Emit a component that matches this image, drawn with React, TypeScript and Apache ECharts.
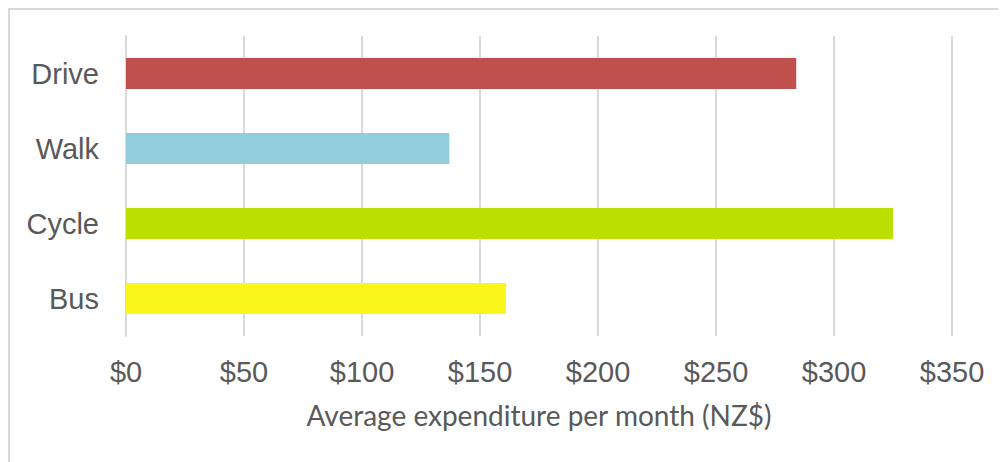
import React, { useEffect, useRef } from "react";
import * as echarts from "echarts";

const categories = ["Drive", "Walk", "Cycle", "Bus"];
const values = [284, 137, 325, 161];
const barColors = ["#C0504D", "#92CDDC", "#BBE000", "#FAF51B"];
const xTicks = { min: 0, max: 350, interval: 50 };
const xTitle = "Average expenditure per month (NZ$)";

export default function App() {
  const ref = useRef<HTMLDivElement>(null);
  useEffect(() => {
    if (!ref.current) return;
    const chart = echarts.init(ref.current, null, { renderer: "svg" });
    chart.setOption({
      animation: false,
      backgroundColor: "#ffffff",
      grid: { left: 116, top: 26, right: 54, bottom: 126, containLabel: false },
      xAxis: {
        type: "value",
        min: xTicks.min,
        max: xTicks.max,
        interval: xTicks.interval,
        axisLine: { show: false },
        axisTick: { show: false },
        splitLine: { show: true, lineStyle: { color: "#d9d9d9", width: 2 } },
        axisLabel: {
          formatter: (v: number) => "$" + v,
          color: "#595959",
          fontFamily: "Liberation Sans, Arial, sans-serif",
          fontSize: 29,
          margin: 21,
        },
        name: xTitle,
        nameLocation: "middle",
        nameGap: 65,
        nameTextStyle: {
          color: "#595959",
          fontFamily: "Lato, sans-serif",
          fontSize: 28,
        },
      },
      yAxis: {
        type: "category",
        data: categories,
        inverse: true,
        axisLine: { show: true, lineStyle: { color: "#d9d9d9", width: 2 } },
        axisTick: { show: false },
        axisLabel: {
          color: "#595959",
          fontFamily: "Liberation Sans, Arial, sans-serif",
          fontSize: 29,
          margin: 27,
        },
      },
      series: [
        {
          type: "bar",
          barWidth: 31,
          data: values.map((v, i) => ({ value: v, itemStyle: { color: barColors[i] } })),
        },
      ],
    });
    return () => chart.dispose();
  }, []);
  return (
    <div
      style={{
        width: 998,
        height: 454,
        boxSizing: "border-box",
        borderTop: "2px solid #d9d9d9",
        borderLeft: "2px solid #d9d9d9",
        overflow: "hidden",
      }}
    >
      <div ref={ref} style={{ width: 996, height: 452 }} />
    </div>
  );
}
